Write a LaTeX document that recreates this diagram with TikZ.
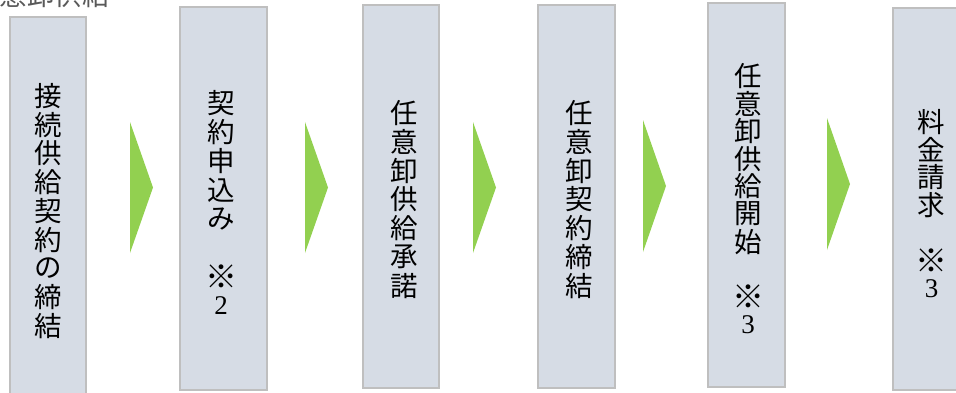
\documentclass[tikz,border=0pt]{standalone}
\usepackage{fontspec}
\newfontfamily\cjk{Noto Sans CJK JP}
\newfontfamily\digf{Liberation Serif}
\definecolor{boxfill}{HTML}{D6DCE5}
\definecolor{boxline}{HTML}{BFBFBF}
\definecolor{chev}{HTML}{92D050}
\definecolor{lblgray}{HTML}{595959}
\tikzset{
  stepbox/.style={draw=boxline, line width=1.6pt, fill=boxfill, rectangle, inner sep=0pt},
  txt/.style={inner sep=0pt, anchor=center, font=\cjk\fontsize{27.5}{28}\selectfont},
  chevron/.style={fill=chev, draw=none}
}
\newcommand{\vtext}[5]{%
  \foreach \ch [count=\k from 0] in {#5} {\node[txt] (#1-\k) at (#2,{#3+\k*#4}) {\ch};}}
\newcommand{\komemark}{{\fontsize{32}{32}\selectfont ※}}
\newcommand{\dig}[1]{{\digf\fontsize{27}{27}\selectfont #1}}
\begin{document}
\begin{tikzpicture}[x=1pt,y=-1pt]
\useasboundingbox (0,0) rectangle (956,392);
\clip (0,0) rectangle (956,392);
% boxes
\node[stepbox, minimum width=76pt, minimum height=390pt] (b1) at (48,212) {};
\node[stepbox, minimum width=87pt, minimum height=383pt] (b2) at (223.5,198.5) {};
\node[stepbox, minimum width=76pt, minimum height=383pt] (b3) at (401,196.5) {};
\node[stepbox, minimum width=77pt, minimum height=383pt] (b4) at (576.5,196.5) {};
\node[stepbox, minimum width=77pt, minimum height=384pt] (b5) at (746.5,195) {};
\node[stepbox, minimum width=77pt, minimum height=382pt] (b6) at (931.5,199) {};
% chevrons
\fill[chevron] (130,122) -- (153,187.5) -- (130,253) -- cycle;
\fill[chevron] (305,122) -- (328,187.5) -- (305,253) -- cycle;
\fill[chevron] (473,122) -- (496,187.5) -- (473,253) -- cycle;
\fill[chevron] (643,120) -- (666,186) -- (643,252) -- cycle;
\fill[chevron] (827,118) -- (850,184) -- (827,250) -- cycle;
% label at top left
\node[txt, text=lblgray] (lbl) at (41,-5) {任意卸供給};
% vertical texts
\vtext{t1}{48.5}{96}{28.75}{接,続,供,給,契,約,の,締,結}
\vtext{t2}{221}{103}{29}{契,約,申,込,み,{},\komemark,\dig{2}}
\vtext{t3}{404}{113}{28.8}{任,意,卸,供,給,承,諾}
\vtext{t4}{579}{113}{28.8}{任,意,卸,契,約,締,結}
\vtext{t5}{748}{76}{27.6}{任,意,卸,供,給,開,始,{},\komemark,\dig{3}}
\vtext{t6}{931.5}{122}{27.7}{料,金,請,求,{},\komemark,\dig{3}}
\end{tikzpicture}
\end{document}
